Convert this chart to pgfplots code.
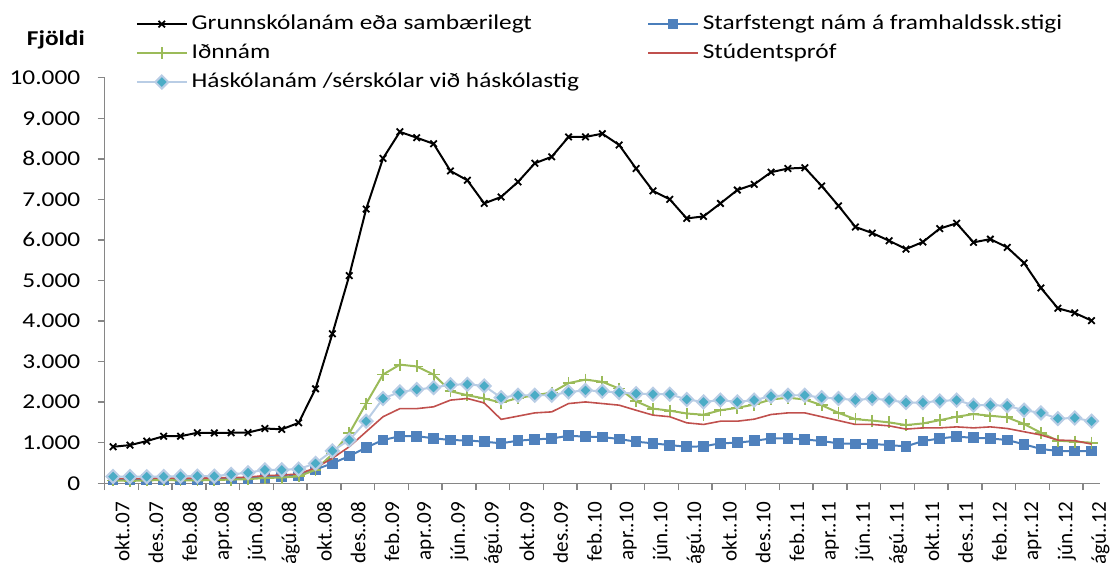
\documentclass[border=0pt]{standalone}
\usepackage{pgfplots}
\pgfplotsset{compat=1.18}
\usepackage{pgfplotstable}
\usepackage{fontspec}
\setmainfont{Carlito}[FakeStretch=1.2]
\newfontfamily\xlab{Carlito}
\definecolor{cblack}{HTML}{000000}
\definecolor{cblue}{HTML}{4A7EBB}
\definecolor{cbluef}{HTML}{4F81BD}
\definecolor{cgreen}{HTML}{9BBB59}
\definecolor{cred}{HTML}{C0504D}
\definecolor{clight}{HTML}{B9CDE5}
\definecolor{cdiam}{HTML}{4BACC6}
\definecolor{axisgray}{HTML}{868686}
\pgfplotstableread{
x a b c d e
0 900 90 70 120 165
1 940 90 60 110 165
2 1040 90 70 120 160
3 1160 100 80 130 165
4 1160 100 70 120 175
5 1245 100 70 130 175
6 1240 100 80 130 175
7 1245 110 90 140 220
8 1250 120 100 150 260
9 1350 150 130 190 330
10 1330 160 140 200 330
11 1490 190 170 230 350
12 2330 340 330 380 490
13 3685 490 720 615 800
14 5120 670 1230 900 1065
15 6760 880 1965 1270 1530
16 8010 1065 2680 1640 2090
17 8665 1160 2925 1840 2250
18 8520 1160 2880 1840 2310
19 8370 1110 2680 1885 2360
20 7700 1065 2270 2050 2430
21 7470 1055 2170 2090 2440
22 6900 1025 2090 1980 2400
23 7060 985 1990 1575 2110
24 7430 1050 2100 1655 2170
25 7890 1080 2170 1735 2170
26 8050 1105 2235 1760 2170
27 8540 1170 2470 1965 2250
28 8540 1150 2555 2005 2290
29 8620 1140 2500 1965 2270
30 8340 1090 2335 1925 2235
31 7760 1025 2020 1800 2210
32 7210 985 1840 1680 2195
33 7000 940 1790 1640 2195
34 6530 900 1720 1490 2065
35 6580 910 1690 1450 2005
36 6900 985 1800 1530 2050
37 7230 1000 1860 1530 2005
38 7370 1045 1940 1580 2050
39 7670 1105 2065 1695 2145
40 7760 1105 2110 1735 2170
41 7780 1080 2065 1735 2170
42 7330 1040 1925 1640 2110
43 6840 985 1735 1545 2090
44 6320 970 1580 1450 2050
45 6170 970 1545 1450 2090
46 5980 940 1500 1415 2050
47 5775 910 1435 1335 1990
48 5950 1040 1475 1365 1990
49 6280 1105 1555 1365 2030
50 6410 1150 1640 1390 2050
51 5940 1120 1705 1365 1925
52 6020 1105 1665 1390 1925
53 5815 1065 1625 1350 1910
54 5430 960 1460 1270 1800
55 4815 845 1245 1190 1735
56 4315 795 1050 1065 1595
57 4200 795 1025 1050 1610
58 4010 795 1000 965 1530
}\data
\newcommand{\ff}{\fontsize{10.6}{12.7}\selectfont}
\newcommand{\xl}[1]{{\xlab\fontsize{10.6}{12.7}\selectfont #1}}
\begin{document}
\ff
\begin{tikzpicture}
\begin{axis}[
  scale only axis, width=499.5pt, height=203.5pt,
  xmin=-0.5, xmax=58.5, ymin=0, ymax=10000,
  axis x line*=bottom, axis y line*=left,
  axis line style={draw=axisgray, line width=0.75pt, -},
  clip mode=individual,
  font=\ff,
  tick align=outside,
  major tick length=3.5pt,
  tick style={draw=axisgray, line width=0.75pt},
  xtick={0,2,...,58},
  xticklabels={\xl{okt..07},\xl{des..07},\xl{feb..08},\xl{apr..08},\xl{jún..08},\xl{ágú..08},\xl{okt..08},\xl{des..08},\xl{feb..09},\xl{apr..09},\xl{jún..09},\xl{ágú..09},\xl{okt..09},\xl{des..09},\xl{feb..10},\xl{apr..10},\xl{jún..10},\xl{ágú..10},\xl{okt..10},\xl{des..10},\xl{feb..11},\xl{apr..11},\xl{jún..11},\xl{ágú..11},\xl{okt..11},\xl{des..11},\xl{feb..12},\xl{apr..12},\xl{jún..12},\xl{ágú..12}},
  x tick label style={rotate=90, anchor=east, yshift=-4.5pt, xshift=-2pt},
  major x tick style={draw=none},
  extra x ticks={-0.5,1.5,...,57.5},
  extra x tick labels={},
  extra x tick style={major x tick style={draw=axisgray, line width=0.75pt}},
  ytick={0,1000,...,10000},
  scaled y ticks=false,
  yticklabel style={xshift=-5pt, /pgf/number format/.cd, fixed, 1000 sep={.}, assume math mode=true},
  legend columns=2,
  legend cell align=left,
  legend style={at={(axis description cs:0.031,1.165)}, anchor=north west, draw=none, fill=none,
    font=\ff, row sep=1.6pt, column sep=0pt, inner sep=0pt},
  legend image code/.code={\draw[#1] (0pt,0pt) -- (25pt,0pt); \draw[#1] plot coordinates {(12.5pt,0pt)};},
]
\addplot[cblack, line width=1pt, mark=x, mark size=2.3pt, mark options={line width=0.9pt}] table[x=x,y=a] {\data};
\addlegendentry{\makebox[226.5pt][l]{Grunnskólanám eða sambærilegt}}
\addplot[cblue, line width=1pt, mark=square*, mark size=2.2pt, mark options={fill=cbluef, draw=cbluef}] table[x=x,y=b] {\data};
\addlegendentry{Starfstengt nám á framhaldssk.stigi}
\addplot[cgreen, line width=1pt, mark=+, mark size=3pt, mark options={line width=0.9pt}] table[x=x,y=c] {\data};
\addlegendentry{\makebox[226.5pt][l]{Iðnnám}}
\addplot[cred, line width=0.8pt, mark=none] table[x=x,y=d] {\data};
\addlegendentry{Stúdentspróf}
\addplot[clight, line width=1pt, mark=square*, mark size=2.3pt, mark options={rotate=45, fill=cdiam, draw=clight, line width=1pt}] table[x=x,y=e] {\data};
\addlegendentry{\makebox[226.5pt][l]{Háskólanám /sérskólar við háskólastig}}
\node[font=\bfseries\ff, anchor=center] at (axis description cs:-0.049,1.093) {Fjöldi};
\coordinate (o) at (rel axis cs:0,0);
\end{axis}
\pgfresetboundingbox
\path[use as bounding box] (o) ++(-52.5pt,-40pt) rectangle ++(557.5pt,282.5pt);
\end{tikzpicture}
\end{document}
